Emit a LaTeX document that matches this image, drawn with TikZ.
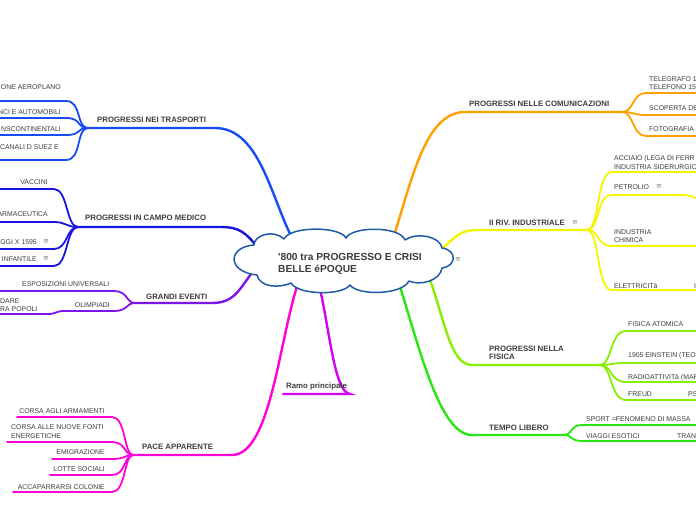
\documentclass[tikz,border=0pt]{standalone}
\usepackage{fontspec}
\setmainfont{Liberation Sans}
\newfontfamily\symfont{DejaVu Sans}
\usetikzlibrary{backgrounds}

\definecolor{cloudblue}{RGB}{30,90,165}
\definecolor{trblue}{RGB}{25,75,245}
\definecolor{medblue}{RGB}{25,20,225}
\definecolor{evpurple}{RGB}{125,20,235}
\definecolor{pacepink}{RGB}{255,0,215}
\definecolor{ramomag}{RGB}{215,0,245}
\definecolor{comorange}{RGB}{255,160,0}
\definecolor{indyellow}{RGB}{245,245,0}
\definecolor{fislime}{RGB}{135,240,0}
\definecolor{tlgreen}{RGB}{40,230,20}
\definecolor{txtgray}{RGB}{60,60,60}

\begin{document}
\begin{tikzpicture}[x=1pt, y=-1pt,
    every node/.style={inner sep=0pt, text=txtgray},
    cloudline/.style={draw=cloudblue, line width=1.5pt, fill=white, line join=round},
    root/.style={anchor=west, font=\fontsize{10.2}{12}\selectfont\bfseries, align=left},
    mainlbl/.style={anchor=west, font=\fontsize{7.8}{8.5}\selectfont\bfseries, align=left},
    sublbl/.style={font=\fontsize{6.9}{8.3}\selectfont, align=left},
    menu/.style={font=\symfont\fontsize{7}{7}\selectfont, text=gray},
    mainline/.style={line width=2.4pt, line cap=round},
    subline/.style={line width=1.8pt, line cap=round}
]
    \useasboundingbox (0,0) rectangle (696,520);
    \clip (0,0) rectangle (696,520);

    % Central topic
    \draw[cloudline] (254,245) .. controls (254,235) and (274,229) .. (284,239)
        .. controls (290,226) and (340,226) .. (346,238)
        .. controls (352,226) and (400,226) .. (405,240)
        .. controls (416,232) and (440,236) .. (442,248)
        .. controls (457,250) and (457,266) .. (442,268)
        .. controls (440,281) and (420,286) .. (409,281)
        .. controls (402,295) and (358,296) .. (350,285)
        .. controls (342,296) and (298,295) .. (291,283)
        .. controls (280,288) and (260,288) .. (257,275)
        .. controls (227,272) and (227,247) .. cycle;
    \node[root] (root) at (278,264) {\textquotesingle800 tra PROGRESSO E CRISI\\BELLE éPOQUE};
    \node[menu] (rootmenu) at (458,260) {≡};

    % Hubs
    \coordinate (tr-h) at (88,128);
    \coordinate (me-h) at (78,227);
    \coordinate (ge-h) at (135,303);
    \coordinate (ol-h) at (64,311);
    \coordinate (pa-h) at (133,455);
    \coordinate (co-h) at (622,112);
    \coordinate (in-h) at (587,230);
    \coordinate (fi-h) at (600,365);
    \coordinate (tl-h) at (565,435);

    % Roots of the branches (under the cloud)
    \coordinate (tr-a) at (296,245);
    \coordinate (me-a) at (260,250);
    \coordinate (ge-a) at (260,263);
    \coordinate (pa-a) at (300,278);
    \coordinate (ra-a) at (318,280);
    \coordinate (co-a) at (392,242);
    \coordinate (in-a) at (436,254);
    \coordinate (fi-a) at (428,274);
    \coordinate (tl-a) at (398,280);

    % Main branches
    \node[mainlbl] (tr) at (97,120) {PROGRESSI NEI TRASPORTI};
    \node[mainlbl] (me) at (85,218) {PROGRESSI IN CAMPO MEDICO};
    \node[mainlbl] (ge) at (146,297) {GRANDI EVENTI};
    \node[mainlbl] (pa) at (142,447) {PACE APPARENTE};
    \node[mainlbl] (ra) at (286,386) {Ramo principale};
    \node[mainlbl] (co) at (469,104) {PROGRESSI NELLE COMUNICAZIONI};
    \node[mainlbl] (in) at (489,223) {II RIV. INDUSTRIALE};
    \node[menu] (inmenu) at (575,223) {≡};
    \node[mainlbl] (fi) at (489,353) {PROGRESSI NELLA\\FISICA};
    \node[mainlbl] (tl) at (489,428) {TEMPO LIBERO};

    % Trasporti
    \node[sublbl, anchor=east] (tr1) at (61,87) {ONE AEROPLANO};
    \node[sublbl, anchor=east] (tr2) at (61,112.5) {NCI E AUTOMOBILI};
    \node[sublbl, anchor=east] (tr3) at (61,129) {NSCONTINENTALI};
    \node[sublbl, anchor=east] (tr4) at (59,147) {CANALI D SUEZ E};

    % Medico
    \node[sublbl, anchor=east] (me1) at (48,182) {VACCINI};
    \node[sublbl, anchor=east] (me2) at (48,214) {ARMACEUTICA};
    \node[sublbl, anchor=east] (me3) at (37,242) {GGI X 1595};
    \node[menu] (me3menu) at (46,242) {≡};
    \node[sublbl, anchor=east] (me4) at (37,259) {INFANTILE};
    \node[menu] (me4menu) at (46,259) {≡};

    % Grandi eventi
    \node[sublbl, anchor=west] (ge1) at (22,284) {ESPOSIZIONI UNIVERSALI};
    \node[sublbl, anchor=east] (ge2) at (110,305) {OLIMPIADI};
    \node[sublbl, anchor=west] (ge21) at (0,305.5) {DARE\\RA POPOLI};

    % Pace apparente
    \node[sublbl, anchor=east] (pa1) at (105,411) {CORSA AGLI ARMAMENTI};
    \node[sublbl, anchor=west] (pa2) at (11,431.5) {CORSA ALLE NUOVE FONTI\\ENERGETICHE};
    \node[sublbl, anchor=east] (pa3) at (105,452) {EMIGRAZIONE};
    \node[sublbl, anchor=east] (pa4) at (105,469) {LOTTE SOCIALI};
    \node[sublbl, anchor=east] (pa5) at (105,487) {ACCAPARRARSI COLONIE};

    % Comunicazioni
    \node[sublbl, anchor=west] (co1) at (649,83) {TELEGRAFO 1\\TELEFONO 15};
    \node[sublbl, anchor=west] (co2) at (649,108) {SCOPERTA DE};
    \node[sublbl, anchor=west] (co3) at (649,129) {FOTOGRAFIA};

    % Industriale
    \node[sublbl, anchor=west] (in1) at (614,162.5) {ACCIAIO (LEGA DI FERR\\INDUSTRIA SIDERURGIC};
    \node[sublbl, anchor=west] (in2) at (614,187) {PETROLIO};
    \node[menu] (in2menu) at (659,187) {≡};
    \node[sublbl, anchor=west] (in3) at (614,236) {INDUSTRIA\\CHIMICA};
    \node[sublbl, anchor=west] (in4) at (614,286) {ELETTRICITà};
    \node[sublbl, anchor=west] (in41) at (694,286) {I};

    % Fisica
    \node[sublbl, anchor=west] (fi1) at (628,324) {FISICA ATOMICA};
    \node[sublbl, anchor=west] (fi2) at (628,356) {1905 EINSTEIN (TEO};
    \node[sublbl, anchor=west] (fi3) at (628,377.5) {RADIOATTIVITà (MAR};
    \node[sublbl, anchor=west] (fi4) at (628,394.5) {FREUD};
    \node[sublbl, anchor=west] (fi41) at (688,394.5) {PS};

    % Tempo libero
    \node[sublbl, anchor=west] (tl1) at (586,419) {SPORT =FENOMENO DI MASSA};
    \node[sublbl, anchor=west] (tl2) at (586,436) {VIAGGI ESOTICI};
    \node[sublbl, anchor=west] (tl21) at (677,436) {TRAN};

    \begin{scope}[on background layer]
    % Main lines
    \draw[mainline, trblue] (tr-a) .. controls (272,205) and (262,128) .. (215,128) -- (tr-h);
    \draw[mainline, medblue] (me-a) .. controls (245,232) and (240,227) .. (220,227) -- (me-h);
    \draw[mainline, evpurple] (ge-a) .. controls (240,285) and (238,303) .. (212,303) -- (ge-h);
    \draw[mainline, pacepink] (pa-a) .. controls (280,330) and (272,455) .. (232,455) -- (pa-h);
    \draw[mainline, ramomag] (ra-a) .. controls (330,330) and (334,392) .. (350,394) -- (283,394);
    \draw[mainline, comorange] (co-a) .. controls (412,180) and (425,112) .. (465,112) -- (co-h);
    \draw[mainline, indyellow] (in-a) .. controls (455,238) and (458,230) .. (478,230) -- (in-h);
    \draw[mainline, fislime] (fi-a) .. controls (445,320) and (450,365) .. (472,365) -- (fi-h);
    \draw[mainline, tlgreen] (tl-a) .. controls (420,350) and (440,435) .. (472,435) -- (tl-h);

    % Sub lines
    \draw[subline, trblue] (tr-h) .. controls (76,128) and (82,101) .. (66,101) -- (0,101);
    \draw[subline, trblue] (tr-h) .. controls (76,128) and (82,118) .. (66,118) -- (0,118);
    \draw[subline, trblue] (tr-h) .. controls (76,128) and (82,135) .. (66,135) -- (0,135);
    \draw[subline, trblue] (tr-h) .. controls (76,128) and (82,160) .. (66,160) -- (0,160);

    \draw[subline, medblue] (me-h) .. controls (66,227) and (68,189) .. (54,189) -- (0,189);
    \draw[subline, medblue] (me-h) .. controls (66,227) and (66,222) .. (54,222) -- (0,222);
    \draw[subline, medblue] (me-h) .. controls (66,227) and (68,249) .. (54,249) -- (0,249);
    \draw[subline, medblue] (me-h) .. controls (66,227) and (68,266) .. (54,266) -- (0,266);

    \draw[subline, evpurple] (ge-h) .. controls (126,303) and (128,291) .. (114,291) -- (0,291);
    \draw[subline, evpurple] (ge-h) .. controls (126,303) and (128,311) .. (114,311) -- (ol-h);
    \draw[subline, evpurple] (ol-h) .. controls (56,311) and (56,314) .. (48,314) -- (0,314);

    \draw[subline, pacepink] (pa-h) .. controls (124,455) and (126,417) .. (112,417) -- (17,417);
    \draw[subline, pacepink] (pa-h) .. controls (124,455) and (126,442) .. (112,442) -- (7,442);
    \draw[subline, pacepink] (pa-h) .. controls (124,455) and (126,459) .. (112,459) -- (52,459);
    \draw[subline, pacepink] (pa-h) .. controls (124,455) and (126,475) .. (112,475) -- (50,475);
    \draw[subline, pacepink] (pa-h) .. controls (124,455) and (126,492) .. (112,492) -- (13,492);

    \draw[subline, comorange] (co-h) .. controls (634,112) and (632,93) .. (646,93) -- (696,93);
    \draw[subline, comorange] (co-h) .. controls (634,112) and (634,115) .. (646,115) -- (696,115);
    \draw[subline, comorange] (co-h) .. controls (634,112) and (632,136) .. (646,136) -- (696,136);

    \draw[subline, indyellow] (in-h) .. controls (600,230) and (596,172) .. (612,172) -- (696,172);
    \draw[subline, indyellow] (in-h) .. controls (600,230) and (596,195) .. (612,195) -- (682,195) .. controls (690,195) and (692,197) .. (696,198);
    \draw[subline, indyellow] (in-h) .. controls (600,230) and (596,246) .. (612,246) -- (696,246);
    \draw[subline, indyellow] (in-h) .. controls (600,230) and (596,290) .. (612,290) -- (696,290);

    \draw[subline, fislime] (fi-h) .. controls (612,365) and (610,331) .. (626,331) -- (696,331);
    \draw[subline, fislime] (fi-h) .. controls (612,365) and (612,363) .. (626,363) -- (696,363);
    \draw[subline, fislime] (fi-h) .. controls (612,365) and (610,382) .. (626,382) -- (696,382);
    \draw[subline, fislime] (fi-h) .. controls (612,365) and (610,400) .. (626,400) -- (696,400);

    \draw[subline, tlgreen] (tl-h) .. controls (572,435) and (570,425) .. (582,425) -- (696,425);
    \draw[subline, tlgreen] (tl-h) .. controls (572,435) and (570,441) .. (582,441) -- (696,441);
    \end{scope}
\end{tikzpicture}
\end{document}
